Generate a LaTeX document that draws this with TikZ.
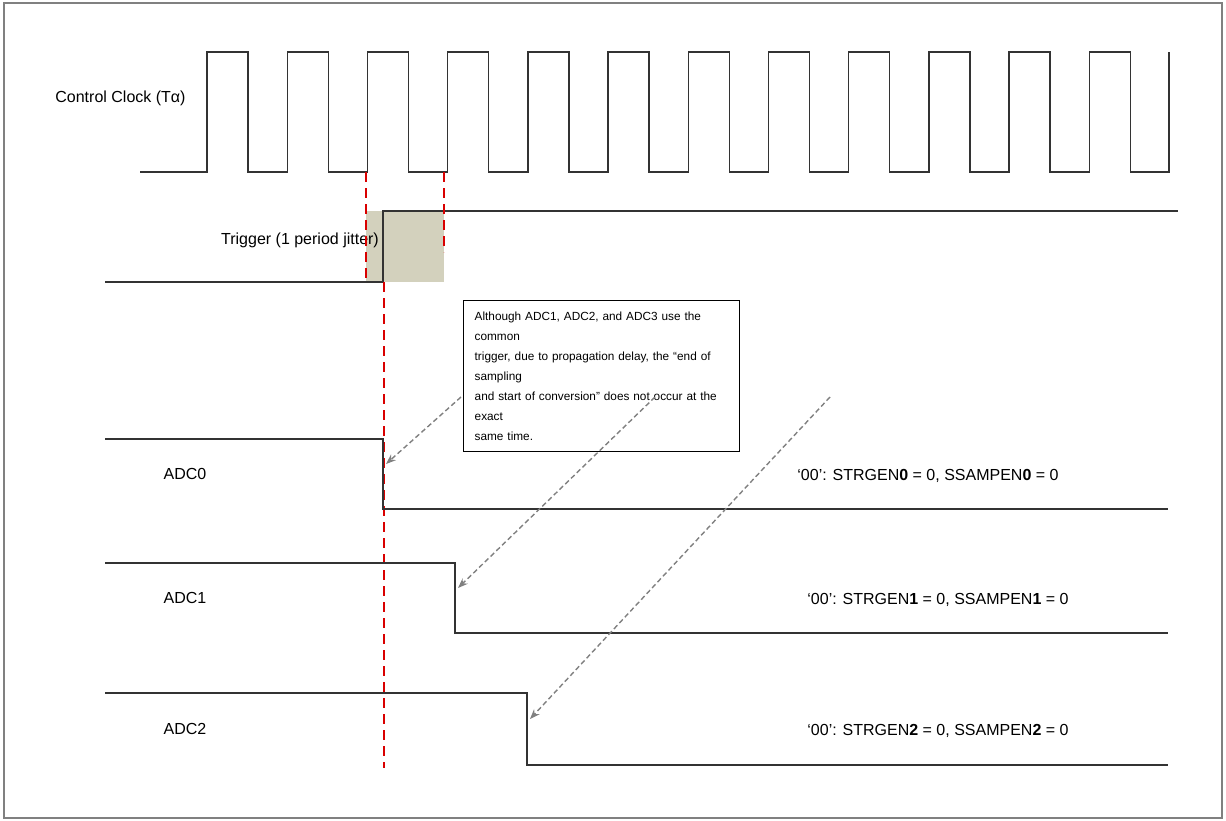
\documentclass[tikz,border=0pt]{standalone}
\usepackage{fontspec}
\setmainfont{Liberation Sans}
\usetikzlibrary{arrows.meta}

\begin{document}
\begin{tikzpicture}[x=0.5pt,y=-0.5pt,
  wave/.style={line width=0.7pt,black!80},
  jitter/.style={red!85!black,line width=1.1pt,dash pattern=on 5pt off 3pt},
  pointer/.style={gray,line width=0.7pt,dash pattern=on 2.5pt off 1.5pt,-{Stealth[length=5pt]}},
  lbl/.style={font=\fontsize{8}{10}\selectfont,inner sep=0pt}]
\useasboundingbox (0,0) rectangle (1226,820);
\draw[gray,line width=0.8pt] (4,3) rectangle (1222,818);

% control clock
\node[lbl,anchor=west] (clk) at (55,98) {Control Clock (Tα)};
\draw[wave] (140,172) foreach \i in {0,...,11} {
  -- ({207+80.2*\i},172) -- ({207+80.2*\i},52) -- ({248+80.2*\i},52) -- ({248+80.2*\i},172)}
  -- (1169,172) -- (1169,52);

% trigger with jitter window
\fill[olive!25!gray!40] (366,211) rectangle (444,282);
\node[lbl] (trg) at (300,240) {Trigger (1 period jitter)};
\draw[wave] (105,282) -- (383,282) -- (383,211) -- (1178,211);
\draw[jitter] (366,172) -- (366,282);
\draw[jitter] (444,172) -- (444,252);
\draw[jitter] (384,282) -- (384,768);

% note
\node[draw,line width=0.7pt,anchor=north west,text width=127pt,align=left,
  inner xsep=5.5pt,inner ysep=5.5pt,font=\fontsize{5.9}{10}\selectfont] (note) at (463,300)
  {Although ADC1, ADC2, and ADC3 use the common\\
   trigger, due to propagation delay, the “end of sampling\\
   and start of conversion” does not occur at the exact\\
   same time.};

% ADC lines
\foreach \n/\yh/\yl/\xe/\xt in {0/439/509/383/797, 1/563/633/455/807, 2/693/765/527/807} {
  \draw[wave] (105,\yh) -- (\xe,\yh) -- (\xe,\yl) -- (1168,\yl);
  \node[lbl] (adc\n) at (185,{(\yh+\yl)/2}) {ADC\n};
  \node[lbl,anchor=west] (reg\n) at (\xt,{(\yh+\yl)/2+2}) {‘00’: STRGEN\textbf{\n} = 0, SSAMPEN\textbf{\n} = 0};
  \coordinate (edge\n) at (\xe+3,{(\yh+\yl)/2-10});
}

\coordinate (p0) at (461,397);
\coordinate (p1) at (655,397);
\coordinate (p2) at (830,397);
\draw[pointer] (p0) -- (edge0);
\draw[pointer] (p1) -- (edge1);
\draw[pointer] (p2) -- (edge2);
\end{tikzpicture}
\end{document}
